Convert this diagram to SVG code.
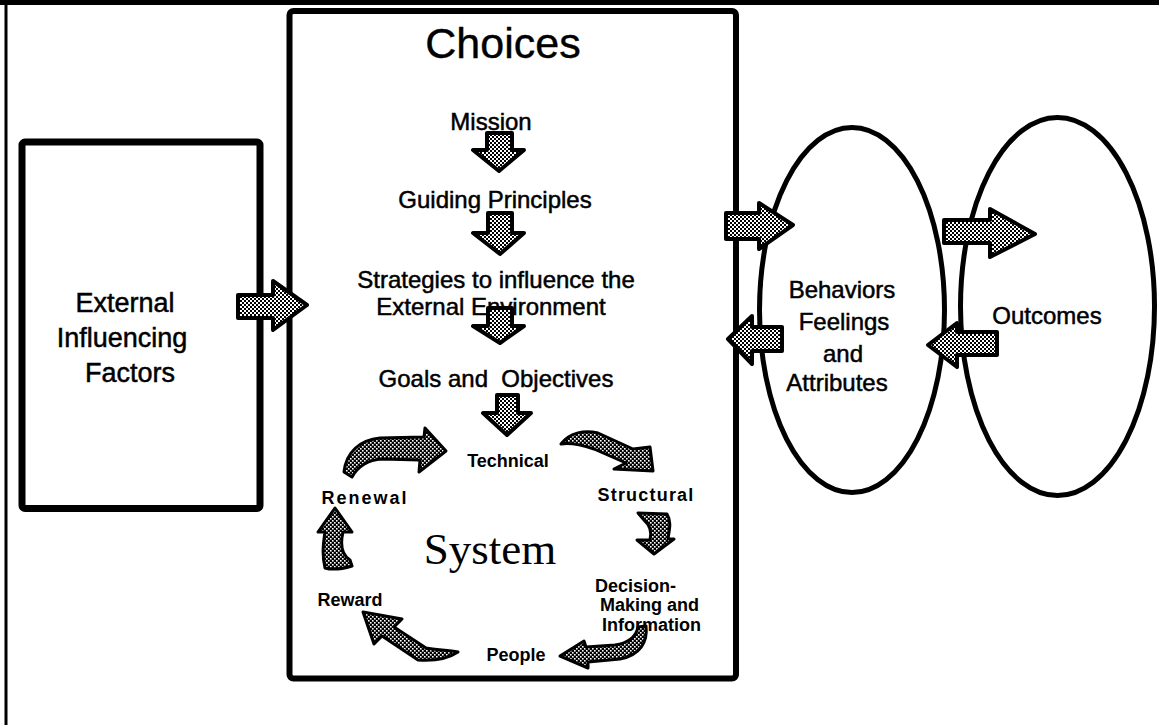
<svg xmlns="http://www.w3.org/2000/svg" width="1159" height="725" viewBox="0 0 1159 725">
<defs>
<pattern id="dots" width="4" height="4" patternUnits="userSpaceOnUse"><rect width="4" height="4" fill="#fff"/><rect width="2" height="2" fill="#000"/><rect x="2" y="2" width="2" height="2" fill="#000"/></pattern>
<pattern id="dark" width="4" height="4" patternUnits="userSpaceOnUse"><rect width="4" height="4" fill="#000"/><rect width="1.6" height="1.6" fill="#fff"/><rect x="2" y="2" width="1.6" height="1.6" fill="#fff"/></pattern>
<style>
.box{fill:#fff;stroke:#000;stroke-width:6}
.ell{fill:none;stroke:#000;stroke-width:5}
.t{font-family:"Liberation Sans",Arial,sans-serif;fill:#000;text-anchor:middle}
.r24{font-size:24px;stroke:#000;stroke-width:0.5}
.b18{font-size:18px;font-weight:bold}
.arr{fill:url(#dots);stroke:#000;stroke-width:4;stroke-linejoin:round}
.cyc{fill:url(#dark);stroke:#000;stroke-width:3;stroke-linejoin:round}
</style>
</defs>
<rect width="1159" height="725" fill="#fff"/>
<g id="frame">
<rect x="0" y="0" width="1159" height="5" fill="#000"/>
<rect x="4.5" y="0" width="3" height="725" fill="#000"/>
</g>
<g id="external">
<rect class="box" x="22" y="142" width="238" height="366.5" rx="3" style="stroke-width:7"/>
<text class="t" style="font-size:27px;stroke:#000;stroke-width:0.5" x="125" y="312">External</text>
<text class="t" style="font-size:27px;stroke:#000;stroke-width:0.5" x="122" y="347">Influencing</text>
<text class="t" style="font-size:27px;stroke:#000;stroke-width:0.5" x="130" y="382">Factors</text>
</g>
<g id="choices">
<rect class="box" x="289.5" y="11" width="446.5" height="667.5" rx="4"/>
<text class="t" style="font-size:43px;stroke:#000;stroke-width:0.4" x="503" y="58">Choices</text>
<text class="t r24" x="491" y="130">Mission</text>
<text class="t r24" x="495" y="208">Guiding Principles</text>
<text class="t r24" x="496" y="288">Strategies to influence the</text>
<text class="t r24" x="491" y="315">External Environment</text>
<text class="t r24" x="496" y="387" style="white-space:pre">Goals and  Objectives</text>
</g>
<g id="system">
<text class="t b18" x="508" y="467">Technical</text>
<text class="t b18" x="646" y="501" style="letter-spacing:1.2px">Structural</text>
<text class="t b18" x="365" y="504" style="letter-spacing:2px">Renewal</text>
<text class="t" style="font-family:'Liberation Serif','Times New Roman',serif;font-size:45px" x="490" y="564">System</text>
<text class="t b18" x="350" y="606">Reward</text>
<text class="t b18" x="595" y="592" style="text-anchor:start">Decision-</text>
<text class="t b18" x="600" y="611" style="text-anchor:start">Making and</text>
<text class="t b18" x="602" y="631" style="text-anchor:start">Information</text>
<text class="t b18" x="516" y="661">People</text>
</g>
<g id="behaviors">
<ellipse class="ell" cx="852" cy="310" rx="92.5" ry="182.5"/>
<text class="t r24" x="842" y="298">Behaviors</text>
<text class="t r24" x="844" y="330">Feelings</text>
<text class="t r24" x="843" y="362">and</text>
<text class="t r24" x="837" y="391">Attributes</text>
</g>
<g id="outcomes">
<ellipse class="ell" cx="1057.5" cy="306.5" rx="97" ry="189"/>
<text class="t r24" x="1047" y="324">Outcomes</text>
</g>
<g id="connectors">
<path class="arr" d="M238,295 L273,295 L273,281 L307,305 L273,330 L273,318 L238,318 Z"/>
<path class="arr" d="M487,133 L512,133 L512,150 L524,150 L499,171 L473,150 L487,150 Z"/>
<path class="arr" d="M488,213 L512,213 L512,233 L524,233 L500,254 L473,233 L488,233 Z"/>
<path class="arr" d="M488,308 L512,308 L512,326 L524,326 L500,343 L473,326 L488,326 Z"/>
<path class="arr" d="M497,395 L518,395 L518,413 L531,413 L507,435 L483,413 L497,413 Z"/>
<path class="arr" d="M726,213 L759,213 L759,203 L793,225 L759,249 L759,239 L726,239 Z"/>
<path class="arr" d="M782,327 L752,327 L752,316 L728,339 L752,364 L752,351 L782,351 Z"/>
<path class="arr" d="M944,220 L990,220 L990,209 L1035,234 L990,257 L990,243 L944,243 Z"/>
<path class="arr" d="M997,332 L957,332 L957,323 L928,345 L957,367 L957,355 L997,355 Z"/>
<path class="cyc" d="M344,472 C346,452 360,440 380,438 L424,437 L425,428 L446,451 L419,472 L420,460 L382,459 C368,460 358,466 352,477 Z"/>
<path class="cyc" d="M561,444 C570,432 585,430 598,433 L633,449 L650,447 L653,471 L614,469 L626,463 L594,449 C585,446 572,442 561,444 Z"/>
<path class="cyc" d="M638,513 L667,514 C672,522 669,531 668,539 L674,539 L654,554 L637,540 L650,540 C652,532 650,525 644,520 Z"/>
<path class="cyc" d="M560,656 L584,641 L586,647 L615,645 C628,643 636,637 638,627 L646,626 C648,642 640,655 620,659 L588,662 L588,668 Z"/>
<path class="cyc" d="M363,612 L402,619 L394,627 L426,648 C437,650 448,650 458,652 C446,660 432,661 418,660 L382,636 L374,644 Z"/>
<path class="cyc" d="M335,508 L352,532 L343,532 C340,545 342,555 350,560 L352,566 C342,569 332,570 325,568 C322,555 323,545 325,532 L318,532 Z"/>
</g>
</svg>
